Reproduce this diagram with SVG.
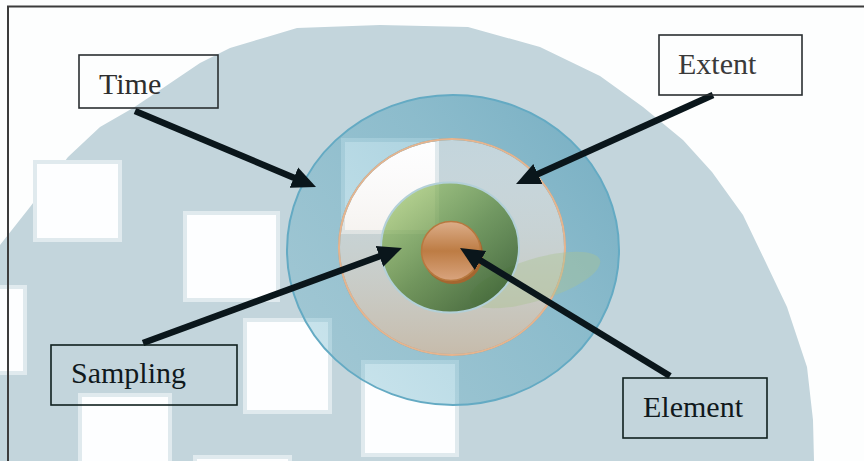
<svg xmlns="http://www.w3.org/2000/svg" width="864" height="461" viewBox="0 0 864 461">
  <defs>
    <style>
      .tile { fill: #fdfeff; stroke: #e0eaee; stroke-width: 4; }
      .box { fill: none; stroke: #2a2f31; stroke-width: 1.6; }
      .label { font-family: "Liberation Serif", "Times New Roman", serif; font-size: 30px; fill: #1c2224; }
      .arrow { fill: none; stroke: #0a161b; stroke-width: 6.5; marker-end: url(#head); }
    </style>
    <marker id="head" markerUnits="userSpaceOnUse" markerWidth="24" markerHeight="24" viewBox="0 0 24 24" refX="9" refY="12" orient="auto">
      <path d="M0,1 L24,12 L0,23 z" fill="#0a161b"/>
    </marker>
    <linearGradient id="blueRing" x1="0" y1="0.8" x2="1" y2="0.1">
      <stop offset="0" stop-color="#4aa3bd" stop-opacity="0.28"/>
      <stop offset="0.6" stop-color="#4099b6" stop-opacity="0.42"/>
      <stop offset="1" stop-color="#3a8fae" stop-opacity="0.55"/>
    </linearGradient>
    <linearGradient id="cream" x1="0" y1="0" x2="0" y2="1">
      <stop offset="0" stop-color="#f4e4dc" stop-opacity="0"/>
      <stop offset="0.45" stop-color="#d8c8b4" stop-opacity="0.22"/>
      <stop offset="1" stop-color="#c8ab8c" stop-opacity="0.62"/>
    </linearGradient>
    <linearGradient id="green" x1="0.15" y1="0.1" x2="0.9" y2="0.9">
      <stop offset="0" stop-color="#86b64e" stop-opacity="0.62"/>
      <stop offset="0.5" stop-color="#4f8034" stop-opacity="0.72"/>
      <stop offset="1" stop-color="#2b5524" stop-opacity="0.82"/>
    </linearGradient>
    <linearGradient id="core" x1="0" y1="0" x2="0" y2="1">
      <stop offset="0" stop-color="#dcae8a"/>
      <stop offset="0.5" stop-color="#bd7c44"/>
      <stop offset="1" stop-color="#d9a47e"/>
    </linearGradient>
  </defs>

  <!-- page background -->
  <rect width="864" height="461" fill="#fdfefe"/>

  <!-- large pale disc behind the diagram -->
  <path d="M0,461 L0,245 L30,207 L68,157 L100,127 L133,108 L163,88 L200,63 L230,48 L267,37 L297,28 L380,25 L468,27 L540,47 L600,76 L643,107 L683,140 L712,172 L743,215 L767,265 L787,307 L807,367 L813,420 L814,461 Z" fill="#c3d5dc"/>

  <!-- light tiles scattered over the disc -->
  <g id="tiles">
    <rect class="tile" x="35" y="162" width="85" height="78"/>
    <rect class="tile" x="185" y="213" width="93" height="87"/>
    <rect class="tile" x="-10" y="287" width="35" height="86"/>
    <rect class="tile" x="245" y="320" width="85" height="92"/>
    <rect class="tile" x="80" y="395" width="90" height="80"/>
    <rect class="tile" x="363" y="362" width="94" height="93"/>
    <rect class="tile" x="195" y="457" width="95" height="20"/>
    <rect class="tile" x="343" y="140" width="94" height="92"/>
  </g>

  <!-- concentric rings -->
  <g id="ring-time">
    <path d="M287,250 A166,155 0 1 0 619,250 A166,155 0 1 0 287,250 Z M339,247 A113,108 0 1 1 565,247 A113,108 0 1 1 339,247 Z" fill="url(#blueRing)" fill-rule="evenodd" stroke="#64aac3" stroke-width="2"/>
  </g>
  <g id="ring-extent">
    <ellipse cx="452" cy="247" rx="113" ry="108" fill="url(#cream)" stroke="#e6b48e" stroke-width="2"/>
  </g>
  <g id="shadow">
    <ellipse cx="535" cy="280" rx="68" ry="21" transform="rotate(-17 535 280)" fill="#a9c390" opacity="0.4"/>
  </g>
  <g id="ring-sampling">
    <ellipse cx="450" cy="247.5" rx="69" ry="65" fill="url(#green)" stroke="#b3d0d8" stroke-width="2"/>
  </g>
  <g id="core-element">
    <circle cx="453" cy="254" r="30" fill="#a5662f"/>
    <circle cx="451" cy="251" r="29.5" fill="url(#core)" stroke="#b7793f" stroke-width="1.5"/>
  </g>

  <!-- pointers from labels to rings -->
  <g id="connectors">
    <line class="arrow" x1="135" y1="111" x2="302.2" y2="181.2"/>
    <line class="arrow" x1="713" y1="95" x2="529.7" y2="177.8"/>
    <line class="arrow" x1="143" y1="343" x2="387.9" y2="253.2"/>
    <line class="arrow" x1="670" y1="376" x2="472.8" y2="255.8"/>
  </g>

  <!-- labels -->
  <g id="label-time">
    <rect class="box" x="79" y="55" width="139" height="53"/>
    <text class="label" x="99" y="94" style="fill:#2e2e2e">Time</text>
  </g>
  <g id="label-extent">
    <rect class="box" x="659" y="35" width="143" height="60"/>
    <text class="label" x="678" y="74" style="fill:#3a3a3a">Extent</text>
  </g>
  <g id="label-sampling">
    <rect class="box" x="51" y="345" width="186" height="60" style="stroke:#10201f"/>
    <text class="label" x="71" y="383" style="fill:#10191c">Sampling</text>
  </g>
  <g id="label-element">
    <rect class="box" x="623" y="378" width="144" height="60" style="stroke:#10201f"/>
    <text class="label" x="643" y="417" style="fill:#10191c">Element</text>
  </g>

  <!-- frame edges -->
  <path d="M8,461 L8,6.5 L864,6.5" fill="none" stroke="#3c3c3c" stroke-width="2"/>
</svg>
